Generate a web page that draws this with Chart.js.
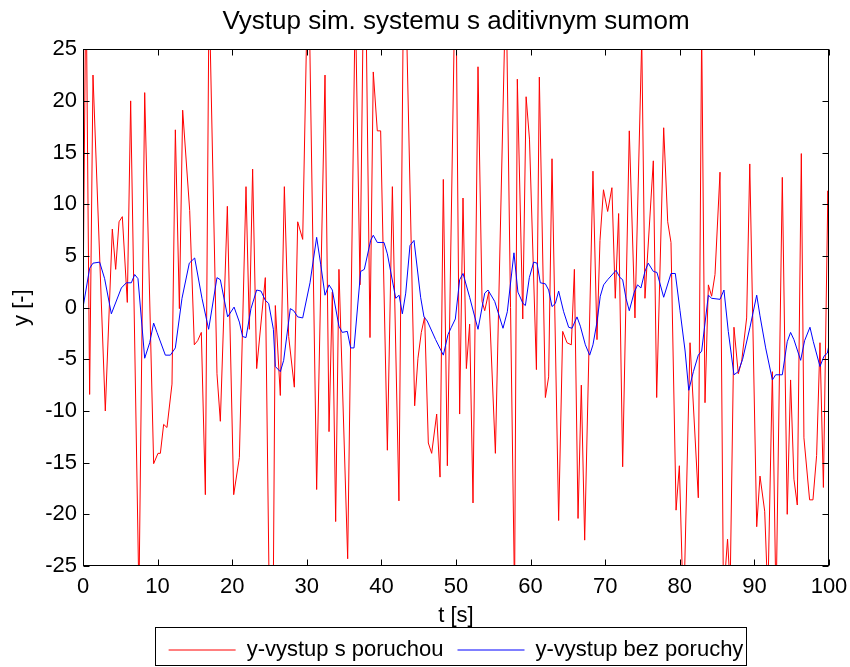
<!DOCTYPE html>
<html>
<head>
<meta charset="utf-8" />
<title>Vystup sim. systemu s aditivnym sumom</title>
<script src="https://cdn.jsdelivr.net/npm/chart.js"></script>
<style>
  html, body { margin: 0; padding: 0; background: #fff; }
  #wrap { width: 850px; height: 667px; }
</style>
</head>
<body>
<div id="wrap"><canvas id="plot" width="850" height="667"></canvas></div>
<script>
const xTicks = [0, 10, 20, 30, 40, 50, 60, 70, 80, 90, 100];
const yTicks = [-25, -20, -15, -10, -5, 0, 5, 10, 15, 20, 25];

// y-vystup s poruchou (cerveny)
const tNoisy = [0, 0.4, 0.89, 1.34, 2.99, 3.93, 4.38, 4.83, 5.27, 5.94, 6.39, 7.5, 8.27, 9.47, 10.05,
  10.37, 10.81, 11.26, 11.93, 12.38, 12.92, 13.36, 14.3, 14.92, 15.37, 15.86, 16.4, 16.9, 17.96, 18.41, 19.35, 20.2,
  20.96, 21.85, 22.3, 22.74, 23.28, 24.44, 25.0, 25.5, 25.78, 26.45, 26.99, 27.57, 28.33, 28.78, 29.45,
  30.2, 31.32, 32.44, 32.98, 33.42, 33.87, 34.31, 35.48, 36.5, 37.13, 37.75, 38.47, 38.91, 39.45, 39.9,
  40.8, 41.47, 42.35, 43.05, 44.46, 44.9, 45.35, 45.8, 46.29, 46.74, 47.41, 47.86, 48.3, 48.84, 49.95,
  50.49, 50.94, 51.39, 51.83, 52.28, 52.95, 53.49, 53.85, 54.39, 55.28, 56.7, 57.85, 58.22, 58.95, 59.4, 59.85,
  60.78, 61.17, 61.98, 62.42, 62.87, 63.76, 64.3, 64.88, 65.46, 65.87, 66.36, 66.8, 67.25, 68.36, 68.9, 69.3, 69.77,
  70.33, 70.9, 71.35, 71.8, 72.34, 73.23, 73.99, 74.9, 75.33, 76.45, 76.9, 77.84, 78.38, 78.82, 79.5, 79.94,
  80.5, 81.37, 82.48, 82.93, 83.38, 83.83, 84.27, 84.72, 85.39, 85.85, 86.4, 86.75, 87.26, 87.84, 88.29, 88.96, 89.38,
  90.31, 90.75, 91.38, 91.8, 92.41, 92.9, 93.74, 94.4, 94.85, 95.3, 95.75, 96.29, 96.64, 97.4, 97.85, 98.34, 98.79,
  99.25, 99.85, 100];
const yNoisy = [0, 33, -8.4, 22.5, -10, 7.6, 3.7, 8.3, 8.8, 0.5, 20, -28, 20.8, -15.1, -14.1,
  -14.1, -11.3, -11.6, -7.4, 17.2, -0.1, 19.1, 9.4, -3.6, -3.2, -2.4, -18.1, 31, -6.4, -11, 9.8, -18.1,
  -14.5, 11.7, -2.1, 13.4, -5.9, 2.9, -30, -28, 0.2, -8.5, 11.7, -2.8, -7.7, 8.3, 6.6,
  35, -17.6, 22.5, -12, 1.5, -20.7, 3.7, -24.3, 30, 2.2, 40, -2.9, 22.8, 17.1, 17.1,
  -13.8, 11.7, -18.7, 38, -9.5, -4.9, -2.4, -0.9, -13.1, -14.1, -10.3, -16.4, 12.4, -15.3, 35,
  -10.3, 10.6, -5.9, -1.6, -18.9, 23.3, 0.6, -0.3, 1.5, -14.1, 32, -28, 22.1, -1.1, 20.4, 16.3,
  -6, 22.3, -8.7, -6.7, 14.4, -20.6, -2.3, -3.4, -3.6, 3.7, -20.4, -7.5, -22.5, 13.2, -3.1, 6.5, 11.4,
  9.3, 11.6, 0.9, 9.1, -15.4, 17.1, -1, 26, 0.9, 14.2, -8.7, 17.4, 8.3, 6.3, -19.6, -15.3,
  -30, -3.4, -18.4, 27, -9.2, 2.2, 1.1, 3.2, 13.1, -28, -22.4, -27, -1.9, -6.4, -5.2, -1, 13.9,
  -21.2, -16.3, -19.7, -28, -6.2, -29, 12.6, -20, -7, -16.6, -19.1, 14.9, -12.6, -18.6, -18.6, -14.3, -3.4,
  -17.4, 11.3, 3.2];

// y-vystup bez poruchy (modry)
const tClean = [0, 0.89, 1.34, 2.23, 2.9, 3.8, 5.14, 5.81, 6.48, 6.93, 7.37, 8.27, 8.94, 9.47, 9.92,
  11.04, 11.71, 12.38, 13.27, 14.25, 14.97, 15.95, 16.84, 17.96, 18.41, 19.39, 20.25,
  20.96, 21.4, 21.85, 22.52, 23.28, 23.86, 24.44, 24.89, 25.52, 25.78, 26.45, 26.9, 27.79, 28.24, 28.78, 29.45,
  30.43, 31.32, 31.86, 32.44, 32.98, 33.42, 34.31, 34.76, 35.43, 35.88, 36.33, 37.22, 37.71, 38.56, 38.91, 39.45,
  40.35, 40.8, 41.92, 42.37, 42.81, 43.26, 43.83, 44.37, 45.26, 45.71, 46.15, 47.27, 48.3, 48.93, 49.38, 49.91,
  50.49, 50.94, 51.83, 52.95, 53.85, 54.29, 55.19, 56.3, 56.88, 57.77, 58.3, 58.98, 59.3, 59.83,
  60.41, 60.86, 61.3, 61.98, 62.42, 62.87, 63.32, 63.76, 64.43, 65.1, 65.55, 66.22, 66.67, 67.34, 67.92, 68.36,
  68.9, 69.34, 69.79, 70.33, 71.45, 71.99, 72.34, 72.79, 73.23, 73.9, 74.34, 74.79, 75.33, 75.77, 76.45, 76.94,
  77.84, 78.82, 79.4, 80.03, 80.71, 81.2, 81.82, 82.48, 82.93, 83.83, 84.27, 85.39, 85.92, 86.5, 87.26, 87.84,
  88.42, 89.41, 90.31, 90.75, 91.51, 92.41, 92.85, 93.74, 94.4, 94.85, 95.3, 96.2, 96.73, 97.45, 97.9, 98.79,
  99.33, 99.78, 100];
const yClean = [0, 3.8, 4.3, 4.4, 2.8, -0.6, 1.9, 2.4, 2.4, 3.2, 2.8, -4.9, -3.4, -1.5, -2.4,
  -4.6, -4.6, -3.9, 0.9, 4.3, 4.8, 0.9, -2.1, 2.9, 2.7, -0.9, 0.05,
  -1.4, -2.8, -2.9, -0.1, 1.7, 1.6, 0.7, 0.4, -2.1, -5.7, -6.2, -5.1, -0.1, -0.3, -0.9, -1,
  2.4, 6.8, 4.2, 1.2, 2.2, 1.7, -1.8, -2.4, -2.3, -3.9, -3.9, 3.5, 3.7, 6.5, 7, 6.3,
  6.3, 5.2, 0.9, 1.2, -0.6, 1.4, 6, 6.5, 1, -0.9, -1.3, -3.1, -4.6, -2.6, -1.9, -1.1,
  2.7, 3.3, 1, -2.1, 1.4, 1.7, 0.6, -2, -0.4, 5.3, 1.5, 0.4, 0.2, 2.9,
  4.4, 4.3, 2.4, 2.3, 1.7, 0.1, 0.4, 1.6, -0.4, -1.9, -2, -0.9, -1.8, -3.6, -4.6, -3.6,
  -1.4, 1.1, 2.2, 2.7, 3.6, 2.9, 2.7, 0.9, -0.3, 1.5, 2.2, 1.9, 3.5, 4.3, 3.5, 3.4,
  1, 3.3, 3.3, -0.3, -4.2, -8, -6.2, -4.6, -4.2, 1.2, 0.9, 0.8, 1.7, -2.3, -6.5, -6.2,
  -5, -1.9, 1.2, -0.8, -3.9, -7, -6.5, -6.5, -3.3, -2.4, -3.1, -5.1, -3.2, -1.9, -3.3, -5.7,
  -4.7, -4.4, -3.6];

function pairs(ts, ys) {
  return ts.map((t, i) => ({ x: t, y: ys[i] }));
}

const FONT = '"Liberation Sans", Arial, Helvetica, sans-serif';

// ramik s tickmi dovnutra + ramik legendy (ako v MATLABe)
const frame = {
  id: 'frame',
  afterDatasetsDraw(chart) {
    const { ctx, chartArea: a, scales: { x, y } } = chart;
    const L = Math.round(a.left) + 0.5, R = Math.round(a.right) - 0.5;
    const T = Math.round(a.top) + 0.5, B = Math.round(a.bottom) - 0.5;
    ctx.save();
    ctx.strokeStyle = '#000';
    ctx.lineWidth = 1;
    ctx.strokeRect(L, T, R - L, B - T);
    ctx.beginPath();
    xTicks.forEach(v => {
      const px = Math.round(x.getPixelForValue(v)) + 0.5;
      ctx.moveTo(px, B); ctx.lineTo(px, B - 6);
      ctx.moveTo(px, T); ctx.lineTo(px, T + 6);
    });
    yTicks.forEach(v => {
      const py = Math.round(y.getPixelForValue(v)) + 0.5;
      ctx.moveTo(L, py); ctx.lineTo(L + 6, py);
      ctx.moveTo(R, py); ctx.lineTo(R - 6, py);
    });
    ctx.stroke();
    ctx.restore();
  },
  afterDraw(chart) {
    const boxes = chart.legend && chart.legend.legendHitBoxes;
    if (!boxes || !boxes.length) return;
    const first = boxes[0], last = boxes[boxes.length - 1];
    const { ctx } = chart;
    const l = Math.round(first.left - 14) + 0.5;
    const r = Math.round(last.left + last.width + 3) + 0.5;
    ctx.save();
    ctx.strokeStyle = '#000';
    ctx.lineWidth = 1;
    ctx.strokeRect(l, 627.5, r - l, 38);
    ctx.restore();
  }
};

new Chart(document.getElementById('plot'), {
  type: 'line',
  data: {
    datasets: [
      { label: 'y-vystup s poruchou', data: pairs(tNoisy, yNoisy), borderColor: '#ff0000',
        backgroundColor: '#ff0000', borderWidth: 1, pointRadius: 0, tension: 0, order: 1 },
      { label: 'y-vystup bez poruchy', data: pairs(tClean, yClean), borderColor: '#0000ff',
        backgroundColor: '#0000ff', borderWidth: 1, pointRadius: 0, tension: 0, order: 0 }
    ]
  },
  options: {
    responsive: false,
    animation: false,
    devicePixelRatio: 1,
    events: [],
    layout: { padding: { left: 0, right: 21, top: 0, bottom: -4 } },
    scales: {
      x: {
        type: 'linear', min: 0, max: 100,
        grid: { display: false, drawTicks: false },
        border: { display: false },
        afterBuildTicks: s => { s.ticks = xTicks.map(v => ({ value: v })); },
        afterFit: s => { s.height = 59; s.paddingLeft = 0; s.paddingRight = 0; },
        ticks: { color: '#000', font: { family: FONT, size: 22 }, padding: 8, maxRotation: 0, autoSkip: false },
        title: { display: true, text: 't [s]', color: '#000', font: { family: FONT, size: 22 }, padding: { top: 0, bottom: -4 } }
      },
      y: {
        type: 'linear', min: -25, max: 25,
        grid: { display: false, drawTicks: false },
        border: { display: false },
        afterBuildTicks: s => { s.ticks = yTicks.map(v => ({ value: v })); },
        afterFit: s => { s.width = 83; s.paddingTop = 0; s.paddingBottom = 0; },
        ticks: { color: '#000', font: { family: FONT, size: 22 }, padding: 6, autoSkip: false },
        title: { display: true, text: 'y [-]', color: '#000', font: { family: FONT, size: 22 }, padding: { top: 9, bottom: 0 } }
      }
    },
    plugins: {
      title: {
        display: true, fullSize: false, text: 'Vystup sim. systemu s aditivnym sumom', color: '#000',
        font: { family: FONT, size: 26, weight: 'normal' }, padding: { top: 6, bottom: 12 }
      },
      legend: {
        position: 'bottom', fullSize: false,
        labels: {
          color: '#000', font: { family: FONT, size: 22 }, padding: 14,
          usePointStyle: true, pointStyle: 'line', pointStyleWidth: 67,
          sort: (a, b) => a.datasetIndex - b.datasetIndex
        }
      },
      tooltip: { enabled: false }
    }
  },
  plugins: [frame]
});
</script>
</body>
</html>
